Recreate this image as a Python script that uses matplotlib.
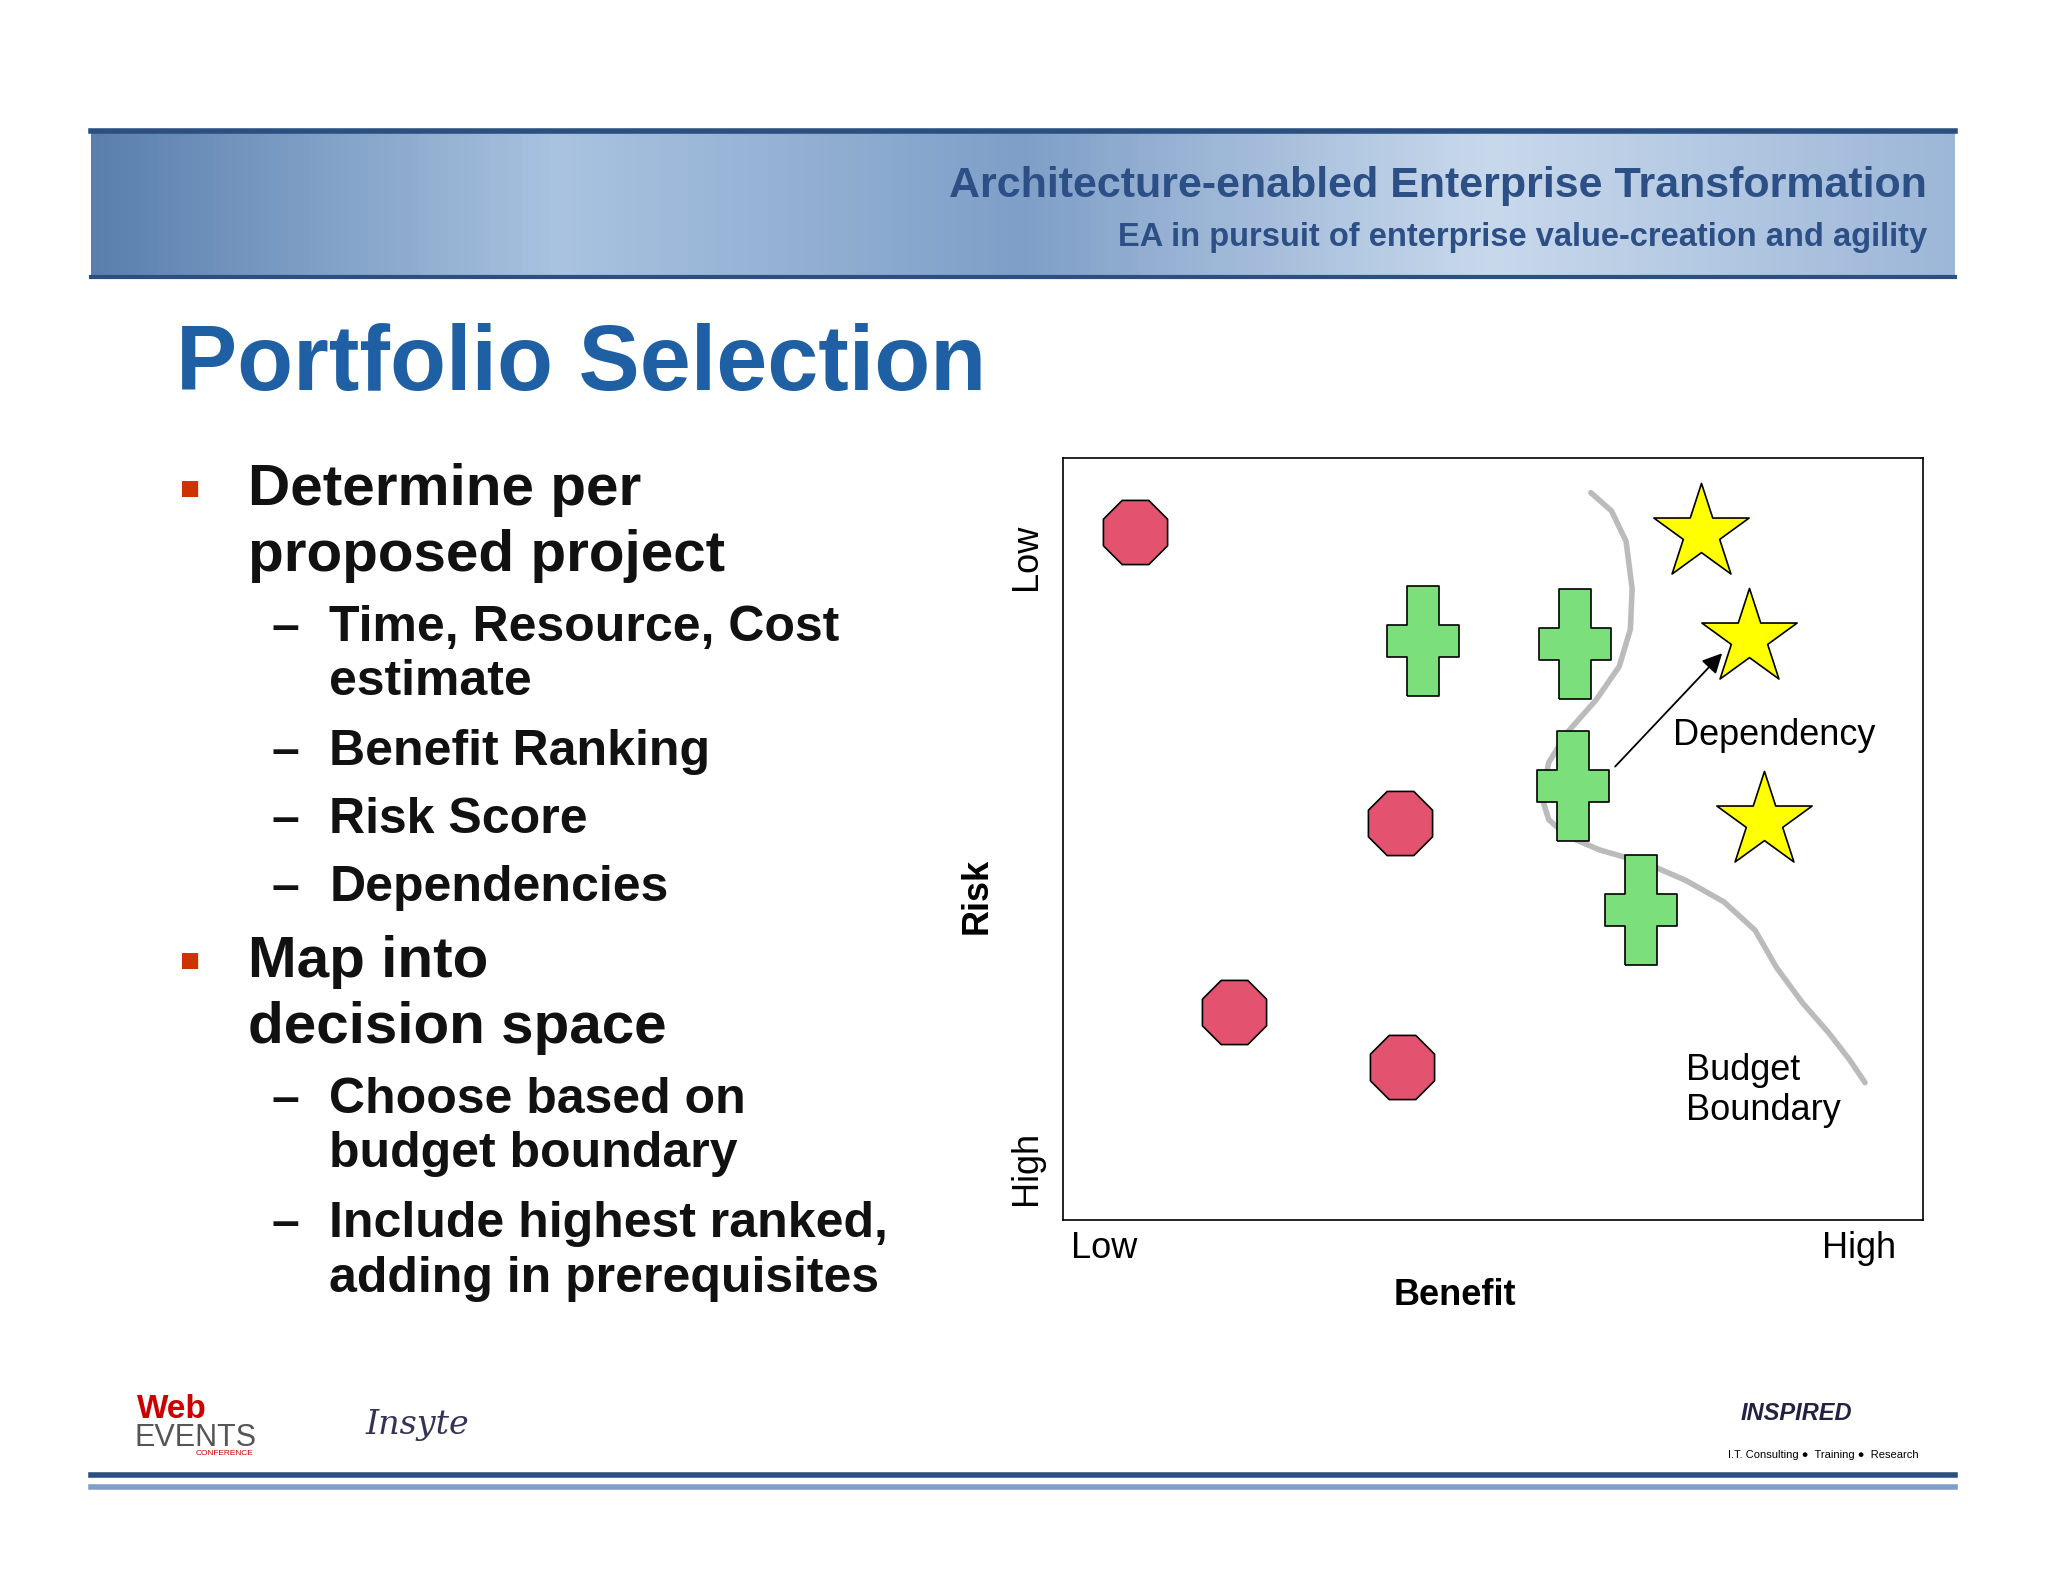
import matplotlib.pyplot as plt
import numpy as np
from matplotlib.path import Path

plt.rcParams["font.family"] = ["Liberation Sans", "DejaVu Sans"]

W, H = 1568, 1210  # reference layout units

def fx(px):
    return px / W

def fy(py):
    return 1 - py / H

# data (benefit 0-10, risk 0-10 with 10 = low risk at top)
octagon_x = [0.84, 3.92, 1.99, 3.94]
octagon_y = [9.03, 5.21, 2.73, 2.01]
cross_x = [4.19, 5.96, 5.93, 6.72]
cross_y = [7.60, 7.56, 5.69, 4.07]
star_x = [7.42, 7.98, 8.16]
star_y = [9.01, 7.63, 5.23]
boundary_x = [6.14, 6.38, 6.55, 6.62, 6.60, 6.47, 6.20, 5.87, 5.65, 5.57, 5.65, 5.87,
              6.25, 6.78, 7.25, 7.69, 8.05, 8.30, 8.60, 8.91, 9.15, 9.33]
boundary_y = [9.54, 9.30, 8.90, 8.28, 7.75, 7.26, 6.82, 6.40, 6.00, 5.54, 5.25, 5.03,
              4.85, 4.68, 4.45, 4.17, 3.80, 3.31, 2.85, 2.45, 2.10, 1.80]

fig = plt.figure(figsize=(20.48, 15.82), dpi=100)
fig.patch.set_facecolor("white")

# header band
hdr = fig.add_axes([fx(70), fy(212), fx(1497) - fx(70), (212 - 100) / H])
grad = np.linspace(0, 1, 256)[None, :]
hdr.imshow(grad, aspect="auto", cmap=plt.matplotlib.colors.LinearSegmentedColormap.from_list(
    "h", ["#5a7fae", "#a9c3e0", "#7f9fc8", "#c9d9ec", "#9db7d8"]), extent=[0, 1, 0, 1])
hdr.set_xlim(0, 1); hdr.set_ylim(0, 1); hdr.axis("off")
hdr.text(0.985, 0.62, "Architecture-enabled Enterprise Transformation", ha="right", va="center",
         fontsize=31, color="#2c4f86", fontweight="bold")
hdr.text(0.985, 0.27, "EA in pursuit of enterprise value-creation and agility", ha="right",
         va="center", fontsize=23.5, color="#2c4f86", fontweight="bold")
for y, c, lw in [(100, "#2b4f7e", 4), (212, "#2b4f7e", 3), (1128, "#2b4f7e", 4), (1137, "#7f9fc8", 4)]:
    fig.add_artist(plt.Line2D([fx(70), fx(1497)], [fy(y), fy(y)], color=c, lw=lw))

fig.text(fx(135), fy(280), "Portfolio Selection", fontsize=66, fontweight="bold",
         color="#1f5fa3", va="center")

red = "#cc3300"
bullets = [
    (190, 375, "Determine per", 42), (190, 425, "proposed project", 42),
    (252, 480, "Time, Resource, Cost", 36), (252, 522, "estimate", 36),
    (252, 575, "Benefit Ranking", 36), (252, 627, "Risk Score", 36),
    (252, 679, "Dependencies", 36),
    (190, 736, "Map into", 42), (190, 786, "decision space", 42),
    (252, 841, "Choose based on", 36), (252, 883, "budget boundary", 36),
    (252, 936, "Include highest ranked,", 36), (252, 978, "adding in prerequisites", 36),
]
for x, y, s, size in bullets:
    fig.text(fx(x), fy(y), s, fontsize=size, fontweight="bold", color="#111111", va="center")
for y in [375, 736]:
    fig.text(fx(138), fy(y), "\u25A0", fontsize=24, color=red, va="center")
for y in [480, 575, 627, 679, 841, 936]:
    fig.text(fx(208), fy(y), "\u2013", fontsize=36, fontweight="bold", color="#111111", va="center")

# chart
ax = fig.add_axes([fx(814), fy(933), (1472 - 814) / W, (933 - 350) / H])
ax.set_xlim(0, 10); ax.set_ylim(0, 10)
ax.set_xticks([]); ax.set_yticks([])
for s in ax.spines.values():
    s.set_linewidth(1.2)

ax.plot(boundary_x, boundary_y, color="#bbbbbb", lw=4, solid_capstyle="round",
        solid_joinstyle="round", zorder=1)
ax.scatter(octagon_x, octagon_y, marker="8", s=2500, c="#e3536f", edgecolors="black",
           linewidths=1.2, zorder=3)
cross = Path([(-1, -3.5), (1, -3.5), (1, -1), (2.3, -1), (2.3, 1), (1, 1), (1, 3.5), (-1, 3.5),
              (-1, 1), (-2.3, 1), (-2.3, -1), (-1, -1), (-1, -3.5)])
ax.scatter(cross_x, cross_y, marker=cross, s=6200, c="#7be07b", edgecolors="black",
           linewidths=1.2, zorder=3)
ax.scatter(star_x, star_y, marker="*", s=5200, c="#ffff00", edgecolors="black",
           linewidths=1.2, zorder=3)
ax.annotate("", xy=(7.69, 7.46), xytext=(6.40, 5.92),
            arrowprops=dict(arrowstyle="-|>", color="black", lw=1.3, mutation_scale=30))
ax.text(7.10, 6.36, "Dependency", fontsize=26, va="center")
ax.text(7.25, 1.7, "Budget\nBoundary", fontsize=26, va="center", linespacing=1.2)

fig.text(fx(820), fy(955), "Low", fontsize=26, va="center")
fig.text(fx(1452), fy(955), "High", fontsize=26, va="center", ha="right")
fig.text(fx(1114), fy(991), "Benefit", fontsize=26, fontweight="bold", va="center", ha="center")
fig.text(fx(786), fy(426), "Low", fontsize=26, va="center", ha="center", rotation=90)
fig.text(fx(786), fy(893), "High", fontsize=26, va="center", ha="center", rotation=90)
fig.text(fx(748), fy(685), "Risk", fontsize=26, fontweight="bold", va="center", ha="center", rotation=90)

# footer logos (approximate)
fig.text(fx(105), fy(1078), "Web", fontsize=24, fontweight="bold", color="#cc0000", va="center")
fig.text(fx(103), fy(1100), "EVENTS", fontsize=22, color="#555555", va="center")
fig.text(fx(150), fy(1112), "CONFERENCE", fontsize=6, color="#cc0000", va="center")
fig.text(fx(280), fy(1090), "Insyte", fontsize=24, style="italic", family="DejaVu Serif",
         color="#333355", va="center")
fig.text(fx(1333), fy(1081), "INSPIRED", fontsize=17, fontweight="bold", style="italic",
         color="#222244", va="center")
fig.text(fx(1323), fy(1113), "I.T. Consulting \u25CF  Training \u25CF  Research", fontsize=8, va="center")

fig.savefig("out.png", dpi=100)
